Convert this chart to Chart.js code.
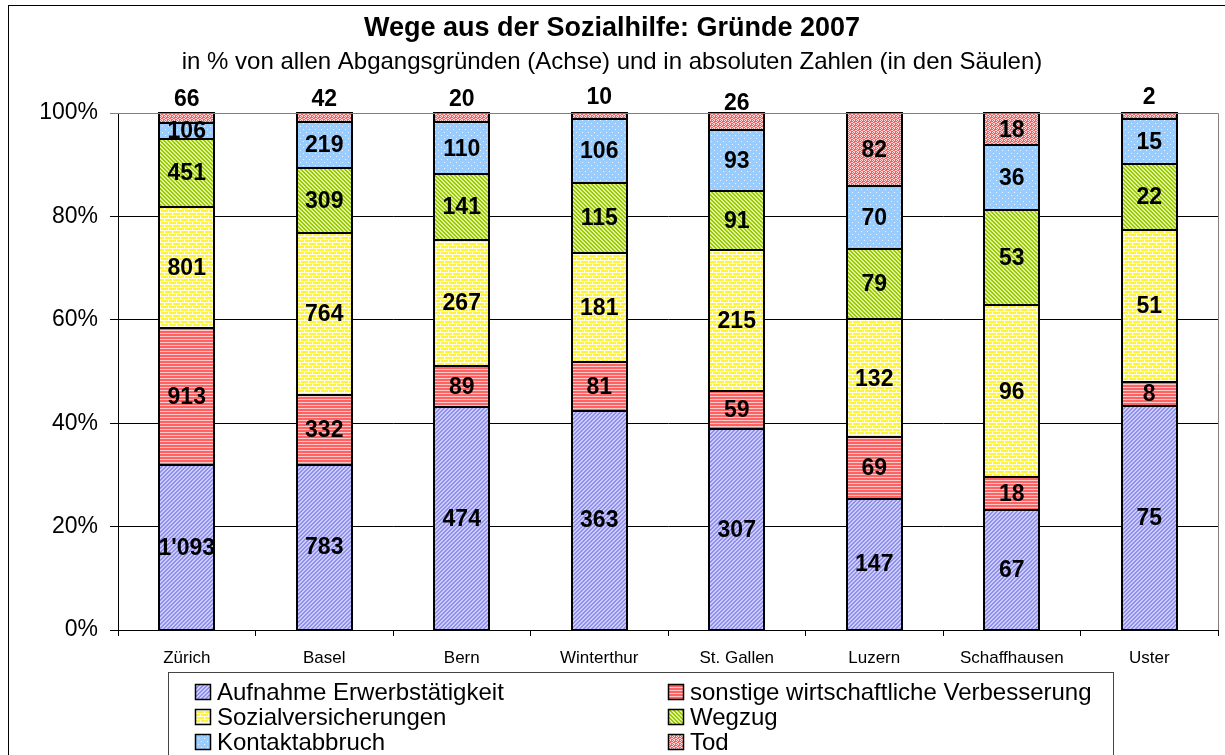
<!DOCTYPE html>
<html>
<head>
<meta charset="utf-8">
<script src="https://cdn.jsdelivr.net/npm/chart.js@4/dist/chart.umd.min.js"></script>
<style>
  html, body { margin: 0; padding: 0; background: #fff; }
  canvas { display: block; }
</style>
</head>
<body>
<canvas id="wegeChart" width="1225" height="755"></canvas>
<script>
//Cities and reasons for leaving welfare (absolute numbers per city)
const cities = ["Zürich", "Basel", "Bern", "Winterthur", "St. Gallen", "Luzern", "Schaffhausen", "Uster"];
const erwerb = [1093, 783, 474, 363, 307, 147, 67, 75];
const sonstige = [913, 332, 89, 81, 59, 69, 18, 8];
const sozialvers = [801, 764, 267, 181, 215, 132, 96, 51];
const wegzug = [451, 309, 141, 115, 91, 79, 53, 22];
const kontakt = [106, 219, 110, 106, 93, 70, 36, 15];
const tod = [66, 42, 20, 10, 26, 82, 18, 2];
const reasons = ["Aufnahme Erwerbstätigkeit", "sonstige wirtschaftliche Verbesserung", "Sozialversicherungen", "Wegzug", "Kontaktabbruch", "Tod"];
const yTicks = [0, 20, 40, 60, 80, 100];

const titleText = "Wege aus der Sozialhilfe: Gründe 2007";
const subtitleText = "in % von allen Abgangsgründen (Achse) und in absoluten Zahlen (in den Säulen)";

const FONT = "'Liberation Sans', Arial, sans-serif";

var ctx = document.getElementById('wegeChart').getContext('2d');

//Small tiles used as fill patterns for the stacks
function makePattern(w, h, draw) {
  let c = document.createElement('canvas');
  c.width = w;
  c.height = h;
  let g = c.getContext('2d');
  draw(g);
  return ctx.createPattern(c, 'repeat');
}

var patErwerb = makePattern(4, 4, function(g) {
  g.fillStyle = '#ccccff';
  g.fillRect(0, 0, 4, 4);
  g.fillStyle = '#8f8fee';
  for (let i = 0; i < 4; i++) {
    g.fillRect(i, 3 - i, 1, 1);
    g.fillRect(i, (4 - i) % 4, 1, 1);
  }
});

var patSonstige = makePattern(1, 3, function(g) {
  g.fillStyle = '#ff6262';
  g.fillRect(0, 0, 1, 3);
  g.fillStyle = '#ffc8c8';
  g.fillRect(0, 0, 1, 1);
});

var patSozial = makePattern(8, 6, function(g) {
  g.fillStyle = '#fff23a';
  g.fillRect(0, 0, 8, 6);
  g.fillStyle = '#ffffe6';
  g.fillRect(0, 2, 8, 1);
  g.fillRect(0, 5, 8, 1);
  g.fillRect(0, 0, 1, 2);
  g.fillRect(4, 3, 1, 2);
});

var patWegzug = makePattern(4, 4, function(g) {
  g.fillStyle = '#e0f0a0';
  g.fillRect(0, 0, 4, 4);
  g.fillStyle = '#99cc00';
  for (let i = 0; i < 4; i++) {
    g.fillRect(i, i, 1, 1);
    g.fillRect(i, (i + 1) % 4, 1, 1);
  }
});

var patKontakt = makePattern(6, 6, function(g) {
  g.fillStyle = '#99ccff';
  g.fillRect(0, 0, 6, 6);
  g.fillStyle = '#e8f4ff';
  g.fillRect(0, 0, 1, 1);
  g.fillRect(3, 3, 1, 1);
});

var patTod = makePattern(4, 4, function(g) {
  g.fillStyle = '#ff5c5c';
  g.fillRect(0, 0, 4, 4);
  g.fillStyle = '#ffd6d6';
  [[0, 0], [2, 0], [1, 1], [3, 2], [0, 2], [2, 3], [1, 3]].forEach(p => g.fillRect(p[0], p[1], 1, 1));
});

const counts = [erwerb, sonstige, sozialvers, wegzug, kontakt, tod];
const fills = [patErwerb, patSonstige, patSozial, patWegzug, patKontakt, patTod];

//Totals per city, every stack is drawn as share of 100%
var totals = cities.map((c, j) => counts.reduce((s, arr) => s + arr[j], 0));

function formatNumber(v) {
  return String(v).replace(/\B(?=(\d{3})+(?!\d))/g, "'");
}

var datasets = counts.map((arr, i) => ({
  label: reasons[i],
  data: arr.map((v, j) => v / totals[j] * 100),
  counts: arr,
  backgroundColor: fills[i],
  borderWidth: 0,
  barPercentage: 0.4,
  categoryPercentage: 1.0
}));

//Segment outlines on whole pixels, then the absolute numbers
const valueLabels = {
  id: 'valueLabels',
  afterDatasetsDraw(chart) {
    let c = chart.ctx;
    c.save();
    c.strokeStyle = '#000';
    c.lineWidth = 2;
    chart.data.datasets.forEach((ds, i) => {
      chart.getDatasetMeta(i).data.forEach(bar => {
        let l = Math.round(bar.x - bar.width / 2);
        let r = Math.round(bar.x + bar.width / 2);
        let t = Math.round(Math.min(bar.y, bar.base));
        let b = Math.round(Math.max(bar.y, bar.base));
        c.strokeRect(l, t, r - l, b - t);
      });
    });

    c.font = "bold 23px " + FONT;
    c.fillStyle = '#000';
    c.textAlign = 'center';
    c.textBaseline = 'middle';
    chart.data.datasets.forEach((ds, i) => {
      let meta = chart.getDatasetMeta(i);
      meta.data.forEach((bar, j) => {
        let top = Math.min(bar.y, bar.base);
        let h = Math.abs(bar.base - bar.y);
        let y = top + h / 2;
        //thin top segments get their number above the column
        if (i === counts.length - 1 && h < 20) y -= 19;
        c.fillText(formatNumber(ds.counts[j]), bar.x, y + 1);
      });
    });
    c.restore();
  }
};

//Title, frames and the two-column legend
const decorations = {
  id: 'decorations',
  beforeDraw(chart) {
    let c = chart.ctx;
    c.save();
    c.fillStyle = '#fff';
    c.fillRect(0, 0, chart.width, chart.height);
    c.restore();
  },
  afterDraw(chart) {
    let c = chart.ctx;
    let area = chart.chartArea;
    c.save();

    //outer frame
    c.strokeStyle = '#000';
    c.lineWidth = 1;
    c.strokeRect(8.5, 5.5, 1300, 900);

    //plot border top and right
    c.strokeStyle = '#808080';
    c.beginPath();
    c.moveTo(area.left, Math.round(area.top) + 0.5);
    c.lineTo(Math.round(area.right) + 0.5, Math.round(area.top) + 0.5);
    c.lineTo(Math.round(area.right) + 0.5, area.bottom);
    c.stroke();

    c.fillStyle = '#000';
    c.textAlign = 'center';
    c.textBaseline = 'middle';
    c.font = "bold 27px " + FONT;
    c.fillText(titleText, 612, 29);
    c.font = "24px " + FONT;
    c.fillText(subtitleText, 612, 62);

    //legend box
    c.strokeStyle = '#444';
    c.strokeRect(168.5, 672.5, 945, 200);
    c.font = "24px " + FONT;
    c.textAlign = 'left';
    chart.data.datasets.forEach((ds, i) => {
      let col = i % 2;
      let row = Math.floor(i / 2);
      let x = col === 0 ? 195 : 668;
      let y = 692 + row * 25;
      c.fillStyle = ds.backgroundColor;
      c.fillRect(x, y - 8, 16, 16);
      c.strokeStyle = '#000';
      c.lineWidth = 1.5;
      c.strokeRect(x + 0.5, y - 7.5, 15, 15);
      c.fillStyle = '#000';
      c.fillText(ds.label, x + 22, y + 1);
    });
    c.restore();
  }
};

var chart = new Chart(ctx, {
  type: 'bar',
  data: {
    labels: cities,
    datasets: datasets
  },
  options: {
    responsive: false,
    animation: false,
    layout: {
      padding: { left: 0, right: 7, top: 113, bottom: 85 }
    },
    plugins: {
      legend: { display: false },
      tooltip: { enabled: false }
    },
    scales: {
      x: {
        stacked: true,
        afterFit: function(scale) { scale.height = 40; },
        grid: {
          offset: true,
          drawOnChartArea: false,
          tickLength: 6,
          color: '#000'
        },
        border: { color: '#000', width: 1 },
        ticks: {
          color: '#000',
          font: { family: FONT, size: 17 },
          padding: 12,
          maxRotation: 0
        }
      },
      y: {
        stacked: true,
        min: 0,
        max: 100,
        afterFit: function(scale) { scale.width = 118; },
        afterBuildTicks: function(scale) {
          scale.ticks = yTicks.map(v => ({ value: v }));
        },
        grid: {
          color: ctx => ctx.tick && ctx.tick.value === 100 ? '#808080' : '#000',
          tickLength: 8
        },
        border: { color: '#000', width: 1 },
        ticks: {
          color: '#000',
          font: { family: FONT, size: 23 },
          padding: 12,
          callback: v => v + '%'
        }
      }
    }
  },
  plugins: [valueLabels, decorations]
});
</script>
</body>
</html>
